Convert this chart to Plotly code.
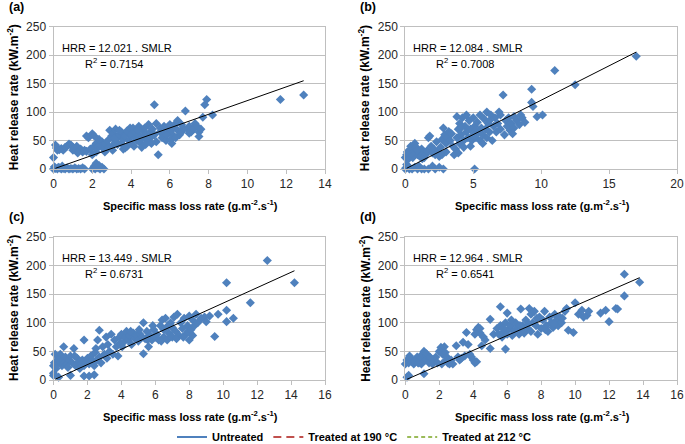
import plotly.graph_objects as go

# ---------------- data ----------------
a_points = [
    (0.0,0),(0.1,1),(0.2,0),(0.3,2),(0.4,0),(0.5,1),(0.6,0),(0.7,2),(0.8,0),(0.9,1),(1.0,0),(1.1,2),(1.2,0),(1.3,1),(1.4,0),(1.5,2),(1.6,0),(0.05,4),(0.25,3),(0.45,5),
    (2.0,0),(2.1,5),(2.2,10),(2.3,2),(2.4,0),(2.5,3),(2.6,0),(2.15,0),(2.35,6),
    (0.0,20),(0.1,42),(0.15,37),(0.2,33),(0.3,34),(0.4,36),(0.5,33),(0.7,40),(0.8,44),(0.9,42),(1.0,38),(1.0,33),(1.1,36),(1.2,40),(1.3,32),(1.4,35),(1.5,30),(1.6,33),(1.7,31),(0.6,38),(1.25,28),
    (1.7,58),(1.8,55),(2.0,62),(2.1,58),(1.9,35),(2.0,25),(2.1,40),(2.2,45),(2.3,38),(2.4,42),(2.5,48),(2.2,30),(2.35,52),
    (2.6,35),(2.7,45),(2.8,50),(2.9,68),(3.0,58),(3.0,40),(3.1,62),(3.2,70),(3.2,48),(3.3,55),(3.4,60),(3.5,45),(3.5,65),(3.6,35),(3.6,52),(3.7,58),(3.8,40),(3.8,67),(3.9,50),(3.95,72),(2.65,30),(2.85,38),(3.05,33),(3.3,43),(3.7,37),(3.4,68),(3.15,53),
    (4.0,45),(4.0,60),(4.1,72),(4.2,55),(4.2,65),(4.3,50),(4.4,75),(4.4,60),(4.5,45),(4.6,68),(4.6,55),(4.7,72),(4.8,50),(4.8,62),(4.9,78),(5.0,65),(5.0,55),(5.1,70),(5.2,113),(5.2,60),(5.3,80),(5.3,48),(5.4,25),(5.5,65),(5.5,72),(5.6,55),(5.7,75),(5.7,62),(5.8,50),(5.9,70),(6.0,65),(6.0,78),(6.1,45),(6.2,58),(6.2,72),(6.3,80),(6.4,68),(6.4,85),(6.5,60),(4.15,40),(4.55,38),(4.35,68),(5.05,45),(5.85,60),(6.05,52),(4.75,43),(6.3,55),
    (6.6,65),(6.7,72),(6.8,102),(6.9,70),(7.0,75),(7.1,65),(7.2,70),(7.3,80),(7.4,75),(7.5,57),(7.5,65),(7.6,70),(7.7,91),(7.8,113),(7.9,122),(8.2,95),(11.7,122),(12.9,130),(6.6,78),(7.0,63),
]
b_points = [
    (0.0,0),(0.1,8),(0.2,5),(0.3,0),(0.5,0),(0.7,3),(0.9,0),(1.0,5),(1.2,0),(1.4,0),(1.7,0),(2.0,5),(2.2,0),(2.5,3),(2.8,0),(5.1,0),(0.05,2),
    (0.0,20),(0.1,25),(0.2,22),(0.3,30),(0.4,40),(0.5,35),(0.6,28),(0.7,45),(0.8,38),(0.9,25),(1.0,30),(1.1,22),(1.2,35),(1.3,28),(1.4,20),(1.5,25),(1.6,32),(1.7,55),(1.8,58),(1.9,40),(2.0,28),(2.1,35),(2.2,25),(2.3,48),(2.4,30),(2.5,22),(2.6,38),(0.25,18),(0.55,20),(0.85,32),(1.25,18),(0.45,27),(0.15,30),
    (2.7,52),(2.8,72),(2.9,60),(3.0,45),(3.1,55),(3.2,66),(3.3,50),(3.4,62),(3.5,40),(3.0,30),(2.7,25),
    (3.6,25),(3.7,35),(3.8,92),(3.8,55),(3.9,70),(4.0,45),(4.0,80),(4.1,60),(4.2,90),(4.3,50),(4.4,75),(4.5,95),(4.5,65),(4.6,55),(4.7,85),(4.8,70),(4.9,50),(5.0,60),(5.0,90),(5.1,75),(5.2,55),(5.3,82),(5.4,65),(5.5,95),(5.5,50),(5.6,72),(5.7,60),(5.8,88),(5.9,70),(6.0,100),(6.0,55),(6.1,80),(6.2,65),(6.3,95),(6.4,50),(6.5,75),(3.9,28),(4.3,38),(4.8,40),(5.7,45),(6.2,85),(4.1,72),(5.2,68),
    (6.6,90),(6.7,65),(6.8,80),(7.0,95),(7.0,70),(7.2,130),(7.3,60),(7.4,85),(7.5,75),(7.6,90),(7.7,68),(7.8,80),(8.0,92),(8.0,72),(8.2,85),(8.4,78),(8.5,95),(8.6,90),(8.8,82),(6.9,100),(7.9,62),
    (9.3,140),(9.3,117),(9.4,110),(9.7,92),(10.1,95),(11.0,173),(12.5,148),(17.0,198),
]
c_points = [
    (0.0,8),(0.3,5),(1.0,8),(1.8,7),(2.1,7),(2.4,9),(0.0,12),
    (0.0,25),(0.05,30),(0.1,45),(0.2,28),(0.3,38),(0.4,45),(0.5,25),(0.6,32),(0.7,40),(0.8,28),(0.9,35),(1.0,42),(1.1,30),(1.2,55),(1.3,25),(1.4,38),(1.5,32),(1.6,28),(1.7,35),(1.8,25),(1.9,30),(2.0,38),(2.1,28),(2.2,42),(2.3,35),(2.4,25),(0.6,58),(1.8,70),(0.15,20),(0.45,33),(0.85,22),(1.25,42),(1.55,20),(0.25,35),(2.45,48),
    (2.5,55),(2.6,70),(2.7,87),(2.7,40),(2.8,30),(2.9,58),(3.0,45),(3.1,75),(3.2,62),(3.3,50),(3.4,80),(3.5,45),(3.6,70),(3.7,58),(3.8,42),(3.9,75),(3.95,65),(2.55,35),(3.15,38),
    (4.0,80),(4.1,65),(4.2,75),(4.3,85),(4.4,70),(4.5,78),(4.6,62),(4.7,82),(4.8,72),(4.9,78),(5.0,68),(5.1,80),(5.2,75),(5.3,100),(5.3,46),(5.4,72),(5.5,85),(5.6,58),(5.7,78),(5.8,70),(5.9,88),(6.0,75),(4.05,58),(4.55,85),(5.05,88),(5.55,70),(5.85,95),
    (6.1,80),(6.2,70),(6.3,95),(6.4,105),(6.5,75),(6.5,88),(6.6,108),(6.7,70),(6.8,82),(6.9,100),(7.0,92),(7.0,75),(7.1,110),(7.2,85),(7.3,115),(7.4,78),(7.5,100),(7.6,90),(7.7,108),(7.8,80),(7.9,95),(8.0,70),(8.0,112),(6.35,68),(6.75,95),(7.25,72),(7.65,75),(7.95,85),
    (8.1,88),(8.2,105),(8.3,95),(8.4,115),(8.5,100),(8.7,108),(8.9,110),(9.0,102),(9.2,112),(9.5,76),(9.7,115),(8.2,78),
    (10.2,170),(10.2,122),(10.2,102),(10.6,108),(11.6,135),(12.6,209),(14.2,170),
]
d_points = [
    (0.1,5),(0.2,8),(1.1,11),
    (0.0,28),(0.1,35),(0.2,30),(0.3,38),(0.4,32),(0.5,28),(0.6,35),(0.7,40),(0.8,30),(0.9,38),(1.0,45),(1.1,50),(1.2,35),(1.3,42),(1.4,30),(1.5,38),(1.6,28),(1.7,33),(1.8,40),(1.9,30),(2.0,50),(2.1,57),(2.2,45),(2.3,58),(2.4,35),(2.5,30),(0.25,42),(0.55,33),(0.95,28),(1.25,46),(1.45,40),(2.15,28),(2.35,48),(2.45,40),(0.75,30),
    (2.6,28),(2.7,35),(2.8,28),(3.0,60),(3.1,40),(3.2,35),(3.4,66),(3.5,42),(3.6,83),(3.7,62),(3.8,45),(3.9,40),(4.0,35),(4.1,30),(4.2,32),(3.3,38),
    (4.1,80),(4.2,88),(4.3,92),(4.4,82),(4.5,60),(4.6,75),(4.7,70),(5.0,55),(5.0,106),(5.2,80),(5.4,90),(4.4,90),
    (5.5,80),(5.6,128),(5.6,95),(5.7,75),(5.8,85),(5.9,54),(5.9,100),(6.0,117),(6.0,80),(6.1,90),(6.2,95),(6.3,78),(6.4,85),(6.5,100),(6.6,92),(6.7,80),(6.8,124),(6.8,88),(6.9,95),(7.0,82),(7.1,105),(7.2,90),(7.3,125),(7.4,115),(7.4,85),(7.5,100),(7.6,120),(7.7,95),(7.8,80),(7.9,110),(8.0,90),(8.1,105),(8.2,120),(8.3,95),(8.4,85),(8.5,110),(8.6,100),(8.7,92),(8.8,115),(8.9,105),(9.0,95),(9.1,110),(9.2,100),(9.4,120),(9.5,125),(9.6,87),(9.9,83),(10.0,135),(5.75,90),(6.25,105),(6.75,95),(7.25,98),(7.75,108),(8.25,88),(8.75,98),(9.25,108),
    (10.2,115),(10.4,122),(10.5,110),(10.7,113),(10.8,120),(11.5,117),(11.8,122),(12.0,102),(12.4,125),(12.5,124),(12.9,185),(12.9,147),(13.8,171),
]

panel_labels = ["(a)", "(b)", "(c)", "(d)"]
slopes = [12.021, 12.084, 13.449, 12.964]
r2_values = ["0.7154", "0.7008", "0.6731", "0.6541"]
fit_x_start = [0.1, 0.1, 0.1, 0.1]
fit_x_end = [12.9, 17.0, 14.2, 13.8]
x_max = [14, 20, 16, 16]
x_dtick = [2, 5, 2, 2]
y_max = 250
legend_names = ["Untreated", "Treated at 190 °C", "Treated at 212 °C"]

# ---------------- layout geometry (pixels) ----------------
W, H = 685, 444
px_x = [(53.5, 325.0), (405.3, 677.0), (53.5, 325.0), (405.3, 677.0)]
px_y = [(26.7, 169.0), (26.7, 169.0), (237.0, 380.0), (237.0, 380.0)]

blue = "#4F81BD"
grid = "#BFBFBF"
font_fam = "Liberation Sans, Arial, sans-serif"

fig = go.Figure()
all_points = [a_points, b_points, c_points, d_points]
layout_axes = {}
annotations = []
for i in range(4):
    xs = [p[0] for p in all_points[i]]
    ys = [p[1] for p in all_points[i]]
    xa = "x" if i == 0 else f"x{i+1}"
    ya = "y" if i == 0 else f"y{i+1}"
    fig.add_trace(go.Scatter(x=xs, y=ys, mode="markers", xaxis=xa, yaxis=ya,
                             marker=dict(symbol="diamond", size=7, color=blue),
                             cliponaxis=False, showlegend=False, hoverinfo="skip"))
    fx = [fit_x_start[i], fit_x_end[i]]
    fy = [slopes[i] * v for v in fx]
    fig.add_trace(go.Scatter(x=fx, y=fy, mode="lines", xaxis=xa, yaxis=ya,
                             line=dict(color="#000000", width=1),
                             showlegend=False, hoverinfo="skip"))
    x0, x1 = px_x[i]
    ytop, ybot = px_y[i]
    xdom = [x0 / W, x1 / W]
    ydom = [1 - ybot / H, 1 - ytop / H]
    key_x = "xaxis" if i == 0 else f"xaxis{i+1}"
    key_y = "yaxis" if i == 0 else f"yaxis{i+1}"
    layout_axes[key_x] = dict(domain=xdom, range=[0, x_max[i]], dtick=x_dtick[i], anchor=ya,
                              automargin=False,
                              showgrid=False, showline=True, linecolor=grid, mirror=True,
                              ticks="outside", ticklen=4, tickcolor=grid, zeroline=False,
                              tickfont=dict(size=12, color="#262626", family=font_fam))
    layout_axes[key_y] = dict(domain=ydom, range=[0, y_max], dtick=50, anchor=xa,
                              automargin=False,
                              showgrid=True, gridcolor=grid, gridwidth=1,
                              showline=True, linecolor=grid, mirror=True,
                              ticks="outside", ticklen=4, tickcolor=grid, zeroline=False,
                              tickfont=dict(size=12, color="#262626", family=font_fam))
    # panel label
    annotations.append(dict(text="<b>" + panel_labels[i] + "</b>", xref="paper", yref="paper",
                            x=(x0 - 47) / W, y=1 - (ytop - 20) / H, xanchor="left", yanchor="middle",
                            showarrow=False, font=dict(size=12.5, color="#000", family=font_fam)))
    # y title
    annotations.append(dict(text="<b>Heat release rate (kW.m<sup>-2</sup>)</b>", xref="paper", yref="paper",
                            x=(x0 - 41) / W, y=1 - ((ytop + ybot) / 2) / H, textangle=-90,
                            xanchor="center", yanchor="middle", showarrow=False,
                            font=dict(size=12, color="#000", family=font_fam)))
    # x title
    annotations.append(dict(text="<b>Specific mass loss rate (g.m<sup>-2</sup>.s<sup>-1</sup>)</b>",
                            xref="paper", yref="paper",
                            x=((x0 + x1) / 2 + 1) / W, y=1 - (ybot + 36) / H,
                            xanchor="center", yanchor="middle", showarrow=False,
                            font=dict(size=11, color="#000", family=font_fam)))
    # equation
    annotations.append(dict(text=f"HRR = {slopes[i]:.3f} . SMLR", xref="paper", yref="paper",
                            x=(x0 + 6) / W, y=1 - (ytop + 21) / H, xanchor="left", yanchor="middle",
                            showarrow=False, font=dict(size=11, color="#000", family=font_fam)))
    annotations.append(dict(text=f"R<sup>2</sup> = {r2_values[i]}", xref="paper", yref="paper",
                            x=(x0 + 29) / W, y=1 - (ytop + 36) / H, xanchor="left", yanchor="middle",
                            showarrow=False, font=dict(size=11, color="#000", family=font_fam)))

legend_colors = ["#4F81BD", "#C0504D", "#9BBB59"]
legend_dash = ["solid", "8px,5px", "4px,3px"]
for name, col, dsh in zip(legend_names, legend_colors, legend_dash):
    fig.add_trace(go.Scatter(x=[None], y=[None], mode="lines", name="<b>" + name + "</b>",
                             line=dict(color=col, width=2, dash=dsh)))

fig.update_layout(
    width=W, height=H, margin=dict(l=0, r=0, t=0, b=0, autoexpand=False),
    paper_bgcolor="white", plot_bgcolor="white",
    annotations=annotations,
    legend=dict(orientation="h", x=172 / W, y=1 - 437 / H, xanchor="left", yanchor="middle",
                font=dict(size=11, color="#000", family=font_fam), bgcolor="rgba(0,0,0,0)",
                itemwidth=30, tracegroupgap=0),
    **layout_axes,
)
fig.write_html("out.html", config={"displayModeBar": False},
               post_script="document.body.style.margin='0px';document.body.style.padding='0px';document.body.style.overflow='hidden';")
